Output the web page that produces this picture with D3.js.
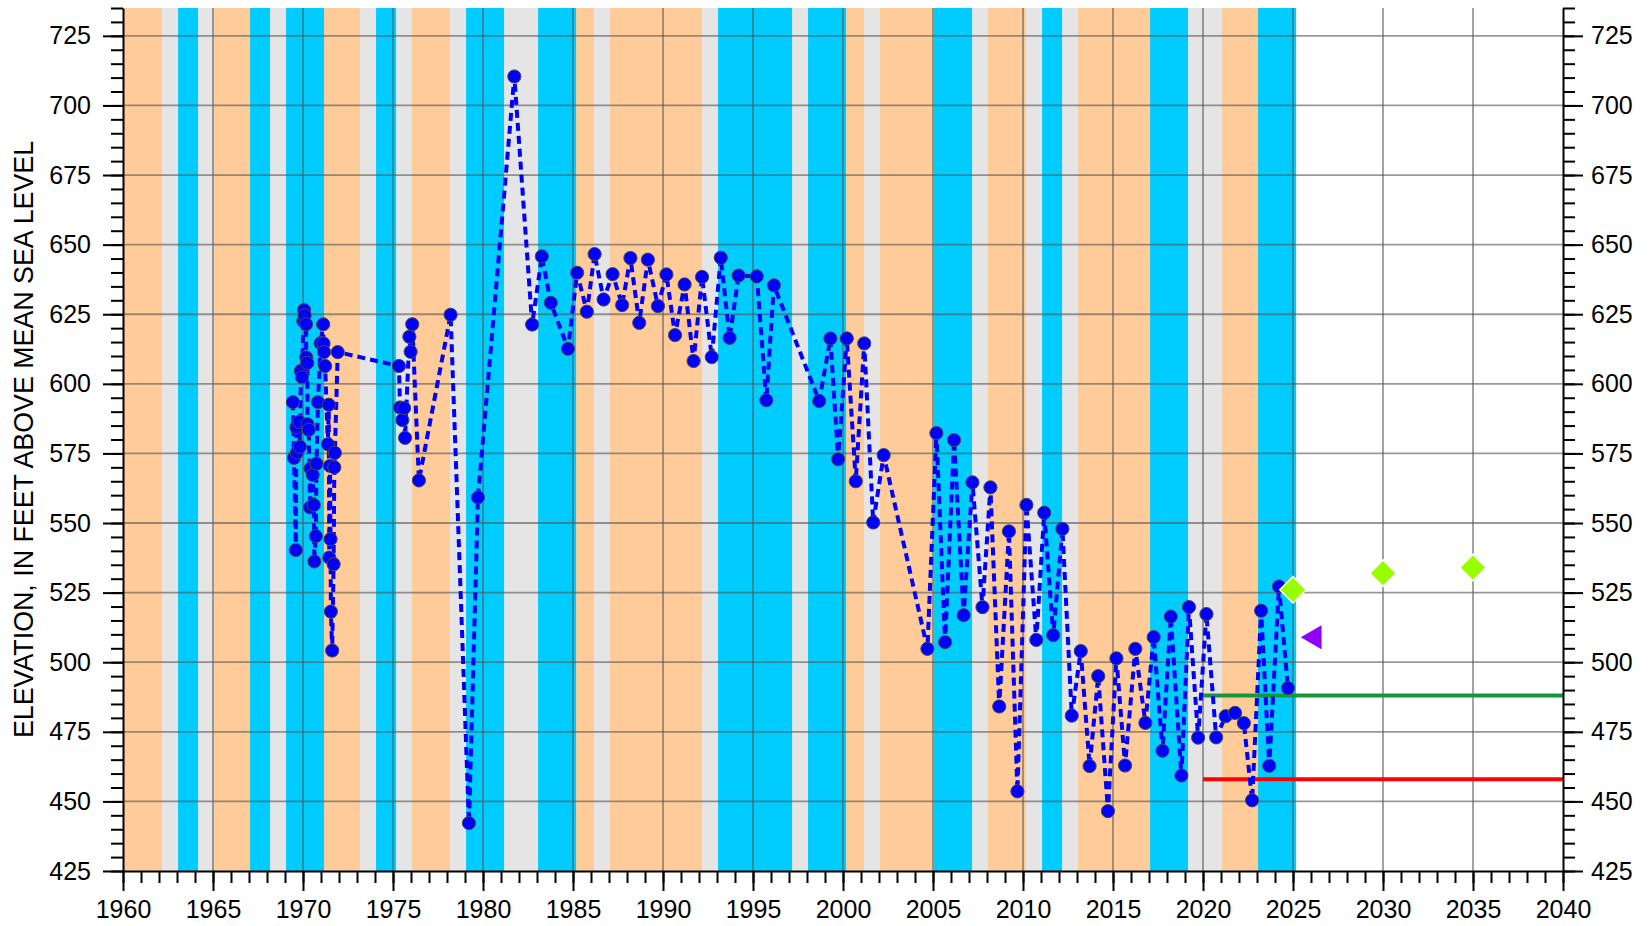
<!DOCTYPE html>
<html>
<head>
<meta charset="utf-8">
<script src="https://cdn.jsdelivr.net/npm/d3@7"></script>
<style>
  html, body { margin: 0; padding: 0; background: #fff; }
  svg { display: block; font-family: "Liberation Sans", Arial, sans-serif; }
</style>
</head>
<body>
<svg id="chart" width="1649" height="926"></svg>
<script>
// Year classification shading (each year's band is shaded with its class colour)
const dryYears = [1959, 1960, 1961, 1965, 1966, 1971, 1972, 1976, 1977, 1985, 1987, 1988, 1989, 1990, 1991,
  2000, 2002, 2003, 2004, 2008, 2009, 2013, 2014, 2015, 2016, 2021, 2022];
const wetYears = [1963, 1967, 1969, 1970, 1974, 1979, 1980, 1983, 1984, 1993, 1994, 1995, 1996, 1998, 1999,
  2005, 2006, 2011, 2017, 2018, 2023, 2024];
const normalYears = [1962, 1964, 1968, 1973, 1975, 1978, 1981, 1982, 1986, 1992, 1997, 2001, 2007, 2010,
  2012, 2019, 2020];

// Measured water-level elevations (decimal year, feet above mean sea level)
const measureDates = [
  1969.44, 1969.50, 1969.60, 1969.63, 1969.66, 1969.80, 1969.83, 1969.88, 1969.94,
  1970.02, 1970.06, 1970.09, 1970.17, 1970.18, 1970.24, 1970.25, 1970.32, 1970.39, 1970.42,
  1970.54, 1970.60, 1970.63, 1970.71, 1970.75, 1970.83, 1970.98,
  1971.12, 1971.14, 1971.17, 1971.23, 1971.38, 1971.43, 1971.46, 1971.50, 1971.53, 1971.55,
  1971.62, 1971.70, 1971.74, 1971.77, 1971.93,
  1975.33, 1975.39, 1975.52, 1975.62, 1975.67, 1975.91, 1975.98, 1976.07, 1976.44,
  1978.20, 1979.22, 1979.72, 1981.74, 1982.73, 1983.27, 1983.77, 1984.72,
  1985.23, 1985.77, 1986.20, 1986.70, 1987.20, 1987.73, 1988.19, 1988.68, 1989.16, 1989.72,
  1990.19, 1990.67, 1991.20, 1991.70, 1992.17, 1992.71, 1993.21, 1993.70, 1994.20,
  1995.21, 1995.74, 1996.16, 1998.68, 1999.30, 1999.73, 2000.21, 2000.71, 2001.18, 2001.68,
  2002.26, 2004.69, 2005.19, 2005.67, 2006.17, 2006.70, 2007.19, 2007.75, 2008.19, 2008.68,
  2009.22, 2009.69, 2010.19, 2010.74, 2011.18, 2011.68, 2012.19, 2012.71, 2013.21, 2013.70,
  2014.18, 2014.72, 2015.19, 2015.67, 2016.24, 2016.80, 2017.26, 2017.75, 2018.21, 2018.80,
  2019.22, 2019.73, 2020.19, 2020.73, 2021.26, 2021.78, 2022.27, 2022.73, 2023.23, 2023.68,
  2024.22, 2024.72
];
const measureElevations = [
  593.4, 573.4, 540.3, 584.4, 575.3, 586.3, 577.4, 604.7, 602.4,
  622.5, 626.5, 624.6, 621.4, 609.5, 607.5, 585.5, 583.5, 555.6, 569.6,
  567.3, 556.5, 536.2, 545.3, 571.3, 593.4, 614.6,
  621.4, 614.5, 611.4, 606.4, 578.3, 592.5, 537.6, 570.5, 544.2, 518.2,
  504.2, 535.2, 570.0, 575.2, 611.4,
  606.4, 591.5, 587.0, 591.3, 580.6, 616.9, 611.5, 621.4, 565.3,
  624.8, 442.2, 559.2, 710.4, 621.3, 645.8, 629.1, 612.6,
  639.9, 625.9, 646.6, 630.3, 639.4, 628.3, 645.2, 621.9, 644.6, 627.9,
  639.3, 617.5, 635.7, 608.2, 638.4, 609.6, 645.3, 616.5, 638.9,
  638.6, 594.1, 635.4, 593.8, 616.3, 572.9, 616.3, 565.0, 614.5, 550.2,
  574.4, 504.8, 582.3, 507.2, 579.8, 516.9, 564.6, 519.8, 562.8, 484.1,
  547.0, 453.6, 556.5, 508.0, 553.7, 509.7, 547.9, 480.8, 504.0, 462.7,
  495.0, 446.5, 501.4, 462.9, 504.8, 478.2, 509.0, 468.2, 516.4, 459.3,
  519.8, 472.9, 517.3, 473.0, 480.6, 481.8, 478.1, 450.4, 518.5, 462.8,
  527.2, 490.7
];

// Projected elevations
const projectionYears = [2025, 2030, 2035];
const projectionElevations = [526, 532, 534];

// Single reference marker
const markerYears = [2026.2];
const markerElevations = [509];

// Horizontal reference levels (start year, end year, elevation)
const upperLevel = [2020, 2040, 488];
const lowerLevel = [2020, 2040, 458];

// Axis tick values
const xMajorTicks = d3.range(1960, 2041, 5);
const xMinorTicks = d3.range(1960, 2041, 1);
const yMajorTicks = d3.range(425, 736, 25);
const yMinorTicks = d3.range(425, 736, 5);

const yAxisTitle = "ELEVATION, IN FEET ABOVE MEAN SEA LEVEL";

// ---- layout ----
const W = 1649, H = 926;
const margin = { left: 123, right: 86, top: 8, bottom: 55 };
const svg = d3.select("#chart");

const x = d3.scaleLinear().domain([1960, 2040]).range([margin.left, W - margin.right]);
const y = d3.scaleLinear().domain([425, 735]).range([H - margin.bottom, margin.top]);

const BAND_START = 0.06, BAND_END = 1.17;
const clampX = v => Math.max(x.domain()[0], v);

// Background bands: normal first, then dry, then wet on top
const bandLayer = svg.append("g");
function drawBands(years, color) {
  bandLayer.append("g").selectAll("rect").data(years).join("rect")
    .attr("x", d => x(clampX(d + BAND_START)))
    .attr("width", d => x(d + BAND_END) - x(clampX(d + BAND_START)))
    .attr("y", y(735))
    .attr("height", y(425) - y(735))
    .attr("fill", color);
}
drawBands(normalYears, "#E5E5E5");
drawBands(dryYears, "#FFCC99");
drawBands(wetYears, "#00CCFF");

// Grid
const grid = svg.append("g").attr("stroke", "#555").attr("stroke-opacity", 0.6).attr("stroke-width", 1.8);
grid.selectAll("line.v").data(xMajorTicks.filter(d => d > 1960 && d < 2040)).join("line")
  .attr("class", "v")
  .attr("x1", d => x(d)).attr("x2", d => x(d))
  .attr("y1", y(735)).attr("y2", y(425));
grid.selectAll("line.h").data(yMajorTicks.filter(d => d > 425)).join("line")
  .attr("class", "h")
  .attr("x1", x(1960)).attr("x2", x(2040))
  .attr("y1", d => y(d)).attr("y2", d => y(d));

// Reference levels
[[upperLevel, "#18973A"], [lowerLevel, "#FF0000"]].forEach(([lv, color]) => {
  svg.append("line")
    .attr("x1", x(lv[0])).attr("x2", x(lv[1]))
    .attr("y1", y(lv[2])).attr("y2", y(lv[2]))
    .attr("stroke", color).attr("stroke-width", 4);
});

// Measured series
const points = measureDates.map((d, i) => ({ t: d, v: measureElevations[i] }));
const line = d3.line().x(d => x(d.t)).y(d => y(d.v));
svg.append("path")
  .datum(points)
  .attr("d", line)
  .attr("fill", "none")
  .attr("stroke", "#0000FF")
  .attr("stroke-width", 4)
  .attr("stroke-dasharray", "8,5");

svg.append("g").selectAll("circle").data(points).join("circle")
  .attr("cx", d => x(d.t))
  .attr("cy", d => y(d.v))
  .attr("r", 6.6)
  .attr("fill", "#0000FF")
  .attr("stroke", "#4a4a4a")
  .attr("stroke-width", 1);

// Projection diamonds
const diamond = d3.symbol().type(d3.symbolSquare).size(350);
svg.append("g").selectAll("path").data(projectionYears.map((d, i) => ({ t: d, v: projectionElevations[i] })))
  .join("path")
  .attr("d", diamond)
  .attr("transform", d => `translate(${x(d.t)},${y(d.v)}) rotate(45)`)
  .attr("fill", "#99FF00")
  .attr("stroke", "#ffffff")
  .attr("stroke-width", 1.5);

// Left-pointing triangle marker
const tri = d3.symbol().type(d3.symbolTriangle).size(250);
svg.append("g").selectAll("path").data(markerYears.map((d, i) => ({ t: d, v: markerElevations[i] })))
  .join("path")
  .attr("d", tri)
  .attr("transform", d => `translate(${x(d.t)},${y(d.v)}) rotate(-90)`)
  .attr("fill", "#9100FF");

// ---- axes ----
function styleAxis(g) {
  g.selectAll("line").attr("stroke", "#000").attr("stroke-width", 2);
  g.selectAll("path.domain").attr("stroke", "#000").attr("stroke-width", 2);
  g.selectAll("text").attr("fill", "#000").attr("font-size", 25)
    .attr("font-family", "'Liberation Sans', Arial, sans-serif");
}

// bottom
svg.append("g").attr("transform", `translate(0,${y(425)})`)
  .call(d3.axisBottom(x).tickValues(xMinorTicks).tickSize(12).tickFormat("").tickSizeOuter(0))
  .call(g => g.select(".domain").remove())
  .call(styleAxis);
svg.append("g").attr("transform", `translate(0,${y(425)})`)
  .call(d3.axisBottom(x).tickValues(xMajorTicks).tickSize(20).tickPadding(9).tickFormat(d3.format("d")).tickSizeOuter(0))
  .call(styleAxis);

// left
svg.append("g").attr("transform", `translate(${x(1960)},0)`)
  .call(d3.axisLeft(y).tickValues(yMinorTicks).tickSize(12).tickFormat("").tickSizeOuter(0))
  .call(g => g.select(".domain").remove())
  .call(styleAxis);
svg.append("g").attr("transform", `translate(${x(1960)},0)`)
  .call(d3.axisLeft(y).tickValues(yMajorTicks).tickSize(20).tickPadding(12).tickFormat(d3.format("d")).tickSizeOuter(0))
  .call(styleAxis);

// right
svg.append("g").attr("transform", `translate(${x(2040)},0)`)
  .call(d3.axisRight(y).tickValues(yMinorTicks).tickSize(12).tickFormat("").tickSizeOuter(0))
  .call(g => g.select(".domain").remove())
  .call(styleAxis);
svg.append("g").attr("transform", `translate(${x(2040)},0)`)
  .call(d3.axisRight(y).tickValues(yMajorTicks).tickSize(20).tickPadding(8).tickFormat(d3.format("d")).tickSizeOuter(0))
  .call(styleAxis);

// y-axis title
svg.append("text")
  .attr("transform", `translate(33,${(y(425) + y(735)) / 2}) rotate(-90)`)
  .attr("text-anchor", "middle")
  .attr("font-size", 26.8)
  .attr("fill", "#000")
  .text(yAxisTitle);
</script>
</body>
</html>
